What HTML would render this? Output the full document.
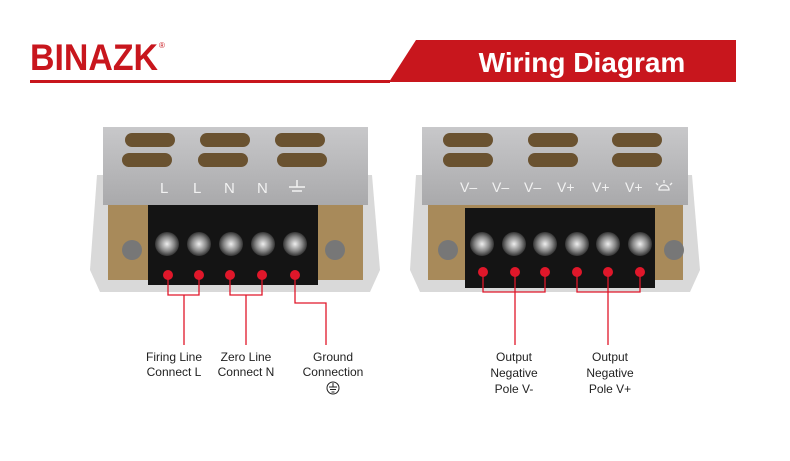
<!DOCTYPE html>
<html><head><style>
body{margin:0;background:#fff;}
svg{display:block}
text{font-family:"Liberation Sans",sans-serif}
</style></head><body>
<svg width="790" height="461" viewBox="0 0 790 461">
<defs>
<linearGradient id="cov" x1="0" y1="0" x2="0" y2="1"><stop offset="0" stop-color="#c8c8ca"/><stop offset="1" stop-color="#a9a9ab"/></linearGradient>
<radialGradient id="scr"><stop offset="0" stop-color="#eee"/><stop offset="0.6" stop-color="#888"/><stop offset="1" stop-color="#333"/></radialGradient>
<g id="slot"><rect width="50" height="14" rx="7" fill="#6a5230"/></g>
</defs>
<!-- header -->
<text x="30" y="70" font-size="37" font-weight="bold" fill="#c8161d" textLength="128" lengthAdjust="spacingAndGlyphs">BINAZK</text>
<text x="159" y="48" font-size="8" fill="#c8161d">®</text>
<rect x="30" y="80" width="360" height="3" fill="#c8161d"/>
<polygon points="416,40 736,40 736,82 389,82" fill="#c8161d"/>
<text x="582" y="72" font-size="28" font-weight="bold" fill="#fff" text-anchor="middle">Wiring Diagram</text>

<!-- left unit -->
<g>
<polygon points="97,175 372,175 380,270 370,292 100,292 90,270" fill="#d9d9d9"/>
<rect x="108" y="200" width="255" height="80" fill="#a88a5a"/>
<rect x="103" y="127" width="265" height="78" fill="url(#cov)"/>
<use href="#slot" x="125" y="133"/><use href="#slot" x="200" y="133"/><use href="#slot" x="275" y="133"/>
<use href="#slot" x="122" y="153"/><use href="#slot" x="198" y="153"/><use href="#slot" x="277" y="153"/>
<text font-size="15" fill="#f2f2f2"><tspan x="160" y="193">L</tspan><tspan x="193" y="193">L</tspan><tspan x="224" y="193">N</tspan><tspan x="257" y="193">N</tspan></text>
<g stroke="#f2f2f2" stroke-width="1.5"><line x1="297" y1="180" x2="297" y2="187"/><line x1="289" y1="187" x2="305" y2="187"/><line x1="292" y1="191" x2="302" y2="191"/></g>
<rect x="148" y="205" width="170" height="80" fill="#141414"/>
<rect x="122" y="240" width="20" height="20" rx="10" fill="#777"/>
<rect x="325" y="240" width="20" height="20" rx="10" fill="#777"/>
<g fill="url(#scr)"><circle cx="167" cy="244" r="12"/><circle cx="199" cy="244" r="12"/><circle cx="231" cy="244" r="12"/><circle cx="263" cy="244" r="12"/><circle cx="295" cy="244" r="12"/></g>
<g fill="#e0172a"><circle cx="168" cy="275" r="5"/><circle cx="199" cy="275" r="5"/><circle cx="230" cy="275" r="5"/><circle cx="262" cy="275" r="5"/><circle cx="295" cy="275" r="5"/></g>
<g stroke="#e0172a" stroke-width="1.3" fill="none">
<polyline points="168,275 168,295 199,295 199,275"/><line x1="184" y1="295" x2="184" y2="345"/>
<polyline points="230,275 230,295 262,295 262,275"/><line x1="246" y1="295" x2="246" y2="345"/>
<polyline points="295,275 295,303 326,303 326,345"/>
</g>
</g>

<!-- right unit -->
<g>
<polygon points="416,175 692,175 700,270 690,292 420,292 410,270" fill="#d9d9d9"/>
<rect x="428" y="200" width="255" height="80" fill="#a88a5a"/>
<rect x="422" y="127" width="266" height="78" fill="url(#cov)"/>
<use href="#slot" x="443" y="133"/><use href="#slot" x="528" y="133"/><use href="#slot" x="612" y="133"/>
<use href="#slot" x="443" y="153"/><use href="#slot" x="528" y="153"/><use href="#slot" x="612" y="153"/>
<text font-size="14" fill="#f2f2f2"><tspan x="460" y="192">V–</tspan><tspan x="492" y="192">V–</tspan><tspan x="524" y="192">V–</tspan><tspan x="557" y="192">V+</tspan><tspan x="592" y="192">V+</tspan><tspan x="625" y="192">V+</tspan></text>
<g stroke="#f2f2f2" stroke-width="1.3" fill="none"><path d="M659,190 a5,5 0 0 1 10,0 z"/><line x1="664" y1="180" x2="664" y2="183"/><line x1="656" y1="183" x2="658" y2="185"/><line x1="672" y1="183" x2="670" y2="185"/></g>
<rect x="465" y="208" width="190" height="80" fill="#141414"/>
<rect x="438" y="240" width="20" height="20" rx="10" fill="#777"/>
<rect x="664" y="240" width="20" height="20" rx="10" fill="#777"/>
<g fill="url(#scr)"><circle cx="482" cy="244" r="12"/><circle cx="514" cy="244" r="12"/><circle cx="545" cy="244" r="12"/><circle cx="577" cy="244" r="12"/><circle cx="608" cy="244" r="12"/><circle cx="640" cy="244" r="12"/></g>
<g fill="#e0172a"><circle cx="483" cy="272" r="5"/><circle cx="515" cy="272" r="5"/><circle cx="545" cy="272" r="5"/><circle cx="577" cy="272" r="5"/><circle cx="608" cy="272" r="5"/><circle cx="640" cy="272" r="5"/></g>
<g stroke="#e0172a" stroke-width="1.3" fill="none">
<polyline points="483,272 483,292 545,292 545,272"/><line x1="515" y1="272" x2="515" y2="345"/>
<polyline points="577,272 577,292 640,292 640,272"/><line x1="608" y1="272" x2="608" y2="345"/>
</g>
</g>

<!-- labels -->
<g font-size="12" fill="#222" text-anchor="middle">
<text x="174" y="361">Firing Line</text><text x="174" y="376">Connect L</text>
<text x="246" y="361">Zero Line</text><text x="246" y="376">Connect N</text>
<text x="333" y="361">Ground</text><text x="333" y="376">Connection</text>
<text x="514" y="361">Output</text><text x="514" y="377">Negative</text><text x="514" y="393">Pole V-</text>
<text x="610" y="361">Output</text><text x="610" y="377">Negative</text><text x="610" y="393">Pole V+</text>
</g>
<circle cx="333" cy="388" r="6" fill="none" stroke="#222"/>
<g stroke="#222" stroke-width="1"><line x1="333" y1="383" x2="333" y2="387"/><line x1="329" y1="387" x2="337" y2="387"/><line x1="330" y1="389.5" x2="336" y2="389.5"/><line x1="331.5" y1="392" x2="334.5" y2="392"/></g>
</svg>
</body></html>
